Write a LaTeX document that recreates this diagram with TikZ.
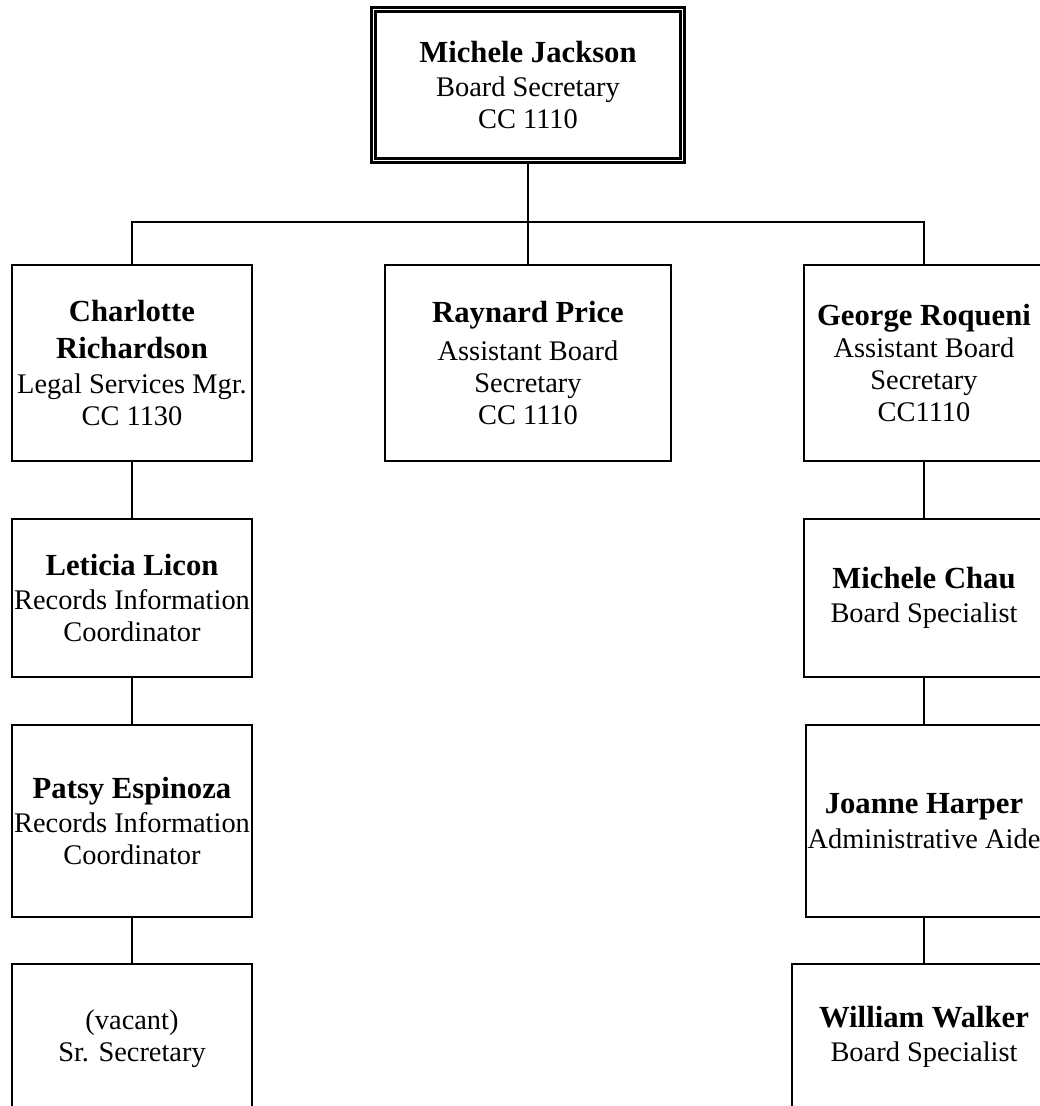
\documentclass[tikz,border=0pt]{standalone}
\usepackage{fontspec}
\setmainfont{Liberation Serif}
\usetikzlibrary{positioning}

\newcommand{\pname}[1]{{\fontsize{23}{27}\selectfont\bfseries #1}}

\begin{document}
\begin{tikzpicture}[x=0.75pt, y=-0.75pt, line width=1.4pt,
    post/.style={draw, align=center, inner sep=0pt, minimum width=180pt,
      font=\fontsize{21.3}{24}\selectfont},
    topbox/.style={post, double, line width=1.6pt, double distance=1.4pt,
      minimum width=231.75pt, minimum height=113.25pt}]
    \useasboundingbox (0,0) rectangle (1039,1106);

    \node[topbox] (jackson) at (528,85) {\pname{Michele Jackson}\\[2pt] Board Secretary\\CC 1110};

    \node[post, minimum height=147pt] (richardson) at (132,363)
      {\pname{Charlotte}\\[4pt]\pname{Richardson}\\[2pt]Legal Services Mgr.\\CC 1130};
    \node[post, minimum width=214.5pt, minimum height=147pt] (price) at (528,363)
      {\pname{Raynard Price}\\[4pt]Assistant Board\\Secretary\\CC 1110};
    \node[post, minimum height=147pt] (roqueni) at (924,363)
      {\pname{George Roqueni}\\Assistant Board\\Secretary\\CC1110};

    \node[post, minimum height=118.5pt] (licon) at (132,598)
      {\pname{Leticia Licon}\\[2pt]Records Information\\Coordinator};
    \node[post, minimum height=144pt] (espinoza) at (132,821)
      {\pname{Patsy Espinoza}\\[2pt]Records Information\\Coordinator};
    \node[post, minimum height=112pt] (vacant) at (132,1039)
      {(vacant)\\Sr. Secretary};

    \node[post, minimum height=118.5pt] (chau) at (924,598)
      {\pname{Michele Chau}\\[2pt]Board Specialist};
    \node[post, minimum width=177pt, minimum height=144pt] (harper) at (924,821)
      {\pname{Joanne Harper}\\[2pt]Administrative Aide};
    \node[post, minimum width=198pt, minimum height=109.5pt] (walker) at (924,1037)
      {\pname{William Walker}\\[2pt]Board Specialist};

    \coordinate (bus) at (528,222);
    \draw (jackson.south) -- (bus);
    \draw (richardson.north) |- (bus) -| (roqueni.north);
    \draw (bus) -- (price.north);

    \draw (richardson.south) -- (licon.north);
    \draw (licon.south) -- (espinoza.north);
    \draw (espinoza.south) -- (vacant.north);

    \draw (roqueni.south) -- (chau.north);
    \draw (chau.south) -- (harper.north);
    \draw (harper.south) -- (walker.north);
\end{tikzpicture}
\end{document}
